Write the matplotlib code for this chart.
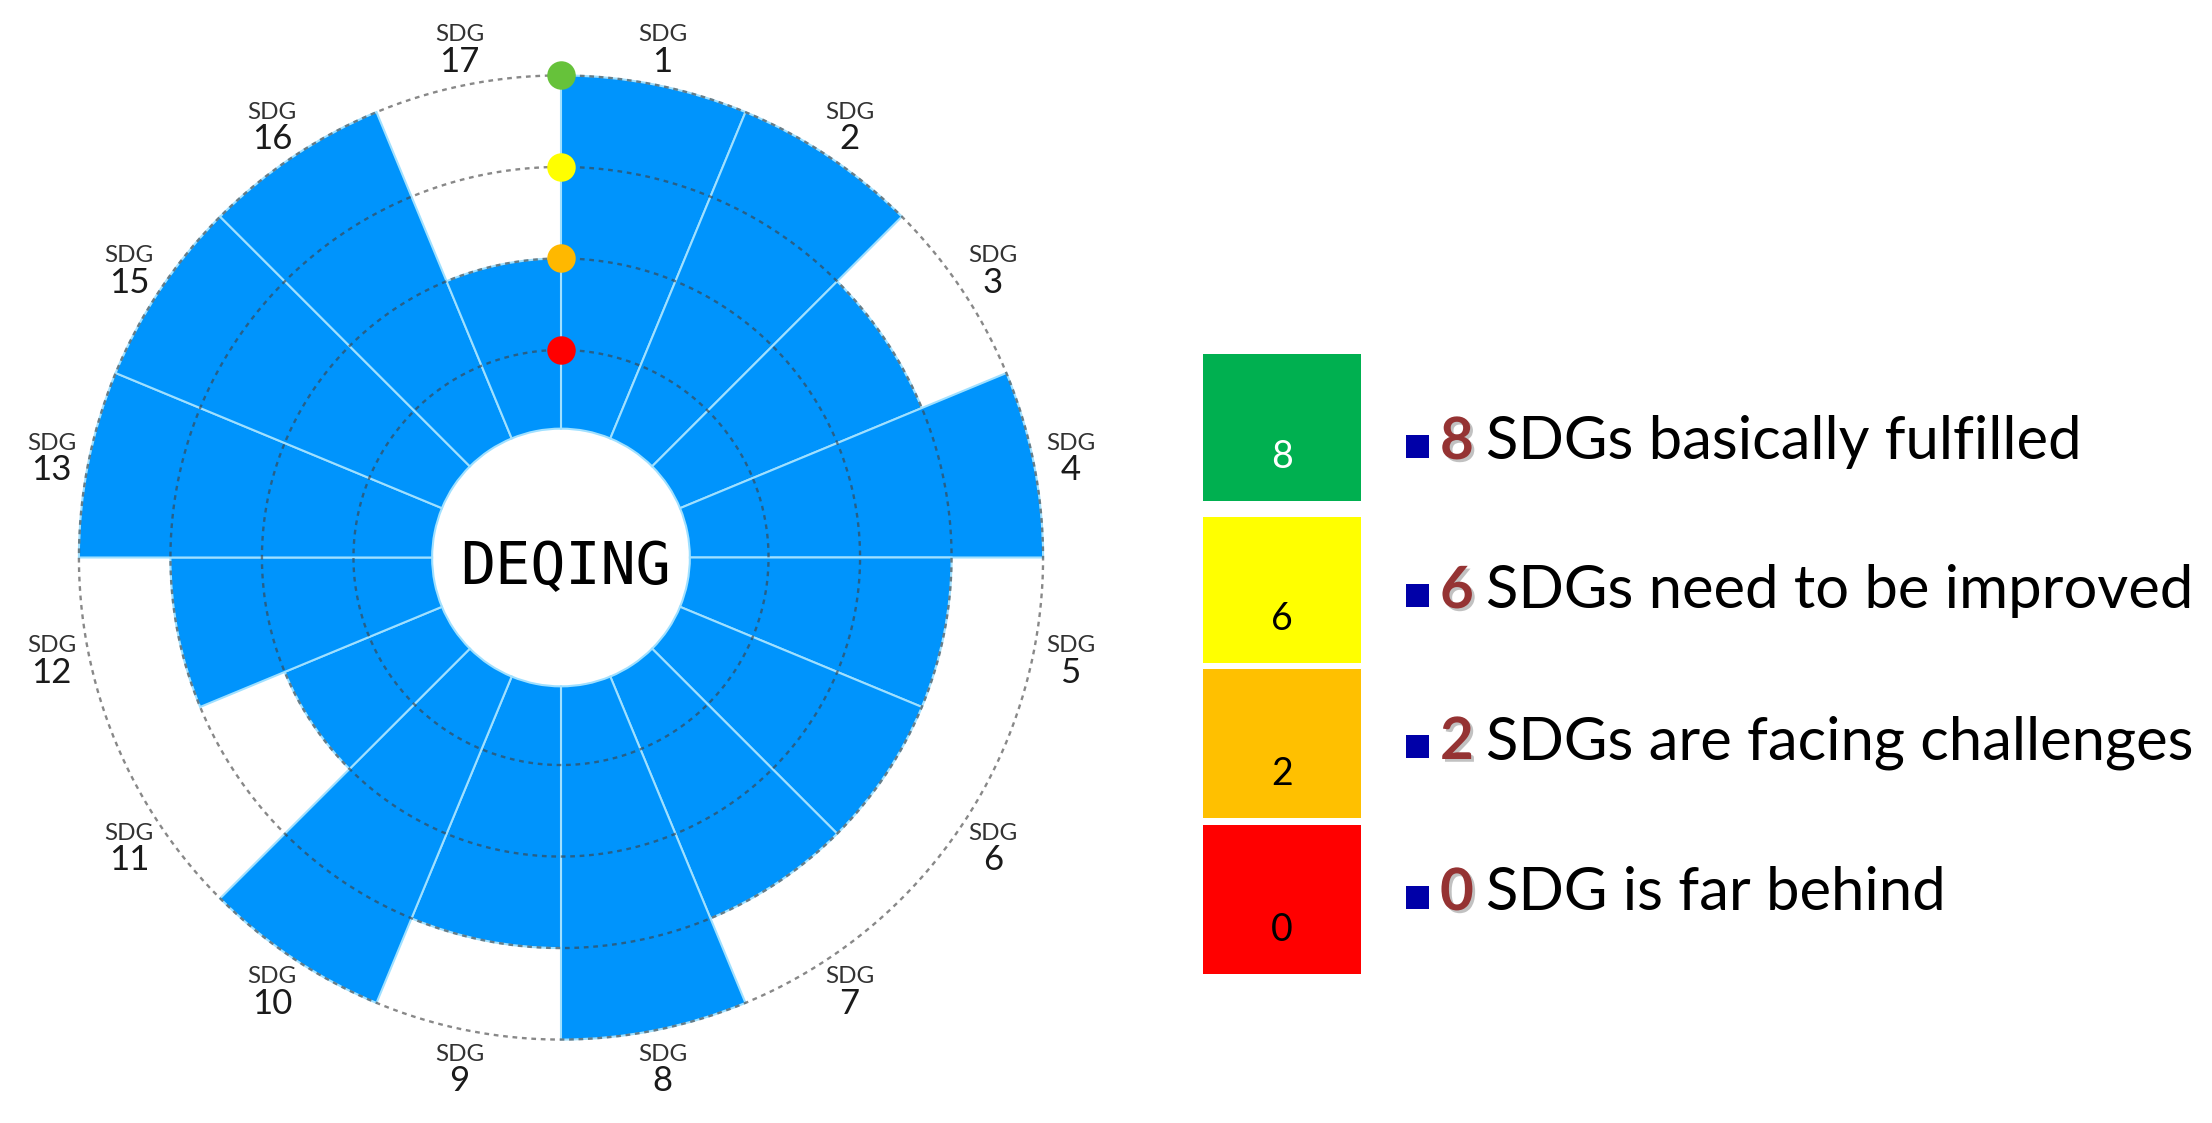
import numpy as np
import matplotlib.pyplot as plt
from matplotlib.patches import Rectangle
import matplotlib.patheffects as pe

plt.rcParams['font.family'] = ['Lato', 'DejaVu Sans']

# SDG scores (1 = far behind, 2 = challenges, 3 = to be improved, 4 = fulfilled)
sdg_names = ['1', '2', '3', '4', '5', '6', '7', '8', '9', '10', '11', '12', '13', '15', '16', '17']
sdg_levels = [4, 4, 3, 4, 3, 3, 3, 4, 3, 4, 2, 3, 4, 4, 4, 2]

levels = [4, 3, 2, 1]
level_colors = ['#00b050', '#ffff00', '#ffc000', '#ff0000']
dot_colors = ['#66c23a', '#ffff00', '#ffb800', '#ff0000']
digit_colors = ['white', 'black', 'black', 'black']
legend_text = ['SDGs basically fulfilled', 'SDGs need to be improved',
               'SDGs are facing challenges', 'SDG is far behind']
city = 'DEQING'

counts = [sdg_levels.count(l) for l in levels]

fig = plt.figure(figsize=(22.12, 11.23), dpi=100)

# polar chart
ax = fig.add_axes([0.01085, 0.02538, 0.48553, 0.95637], projection='polar')
ax.set_theta_zero_location('N')
ax.set_theta_direction(-1)
ax.set_ylim(0, 4.6)
ax.set_rorigin(-1.268)

n = len(sdg_names)
width = 2 * np.pi / n
theta = np.arange(n) * width + width / 2
hole = 0.14

ax.bar(theta, np.array(sdg_levels) - hole, width=width, bottom=hole,
       color='#0094fc', edgecolor='#a0e0ff', linewidth=1.5, zorder=2)

tt = np.linspace(0, 2 * np.pi, 500)
for l in levels:
    ax.plot(tt, np.full_like(tt, l), color='#404040', alpha=0.62,
            lw=1.7, ls=(0, (2, 2)), zorder=3)

for l, c in zip(levels, dot_colors):
    ax.plot([0], [l], 'o', color=c, markersize=20.5, markeredgewidth=0, zorder=5)

for t, name in zip(theta, sdg_names):
    ax.annotate('SDG', (t, 4.41), xytext=(0, 13), textcoords='offset pixels',
                ha='center', va='center', fontsize=17.5, color='#333333')
    ax.annotate(name, (t, 4.41), xytext=(0, -14), textcoords='offset pixels',
                ha='center', va='center', fontsize=25, color='#1a1a1a')

ax.axis('off')

# overlay in pixel coordinates for the centre label and the legend
lg = fig.add_axes([0, 0, 1, 1], facecolor='none')
lg.set_xlim(0, 2212)
lg.set_ylim(1123, 0)
lg.axis('off')

lg.text(565, 568, city, ha='center', va='center', fontsize=42,
        family='DejaVu Sans Mono', color='black')

box_top = [354, 517, 669, 825]
box_bot = [501, 663, 818, 974]
text_base = [459, 608, 759, 910]
for i in range(4):
    lg.add_patch(Rectangle((1203, box_top[i]), 158, box_bot[i] - box_top[i],
                           facecolor=level_colors[i], edgecolor='none'))
    lg.text(1282, box_bot[i] - 33, str(counts[i]), ha='center', va='baseline',
            fontsize=27, color=digit_colors[i])
    lg.add_patch(Rectangle((1406, text_base[i] - 24), 23, 23,
                           facecolor='#0000a8', edgecolor='none'))
    lg.text(1440, text_base[i], str(counts[i]), ha='left', va='baseline',
            fontsize=42, fontweight='bold', color='#953333',
            path_effects=[pe.withSimplePatchShadow(offset=(2, -2), shadow_rgbFace='#999999', alpha=0.6)])
    lg.text(1486, text_base[i], legend_text[i], ha='left', va='baseline',
            fontsize=43, color='black')

plt.savefig('out.png', dpi=100)
